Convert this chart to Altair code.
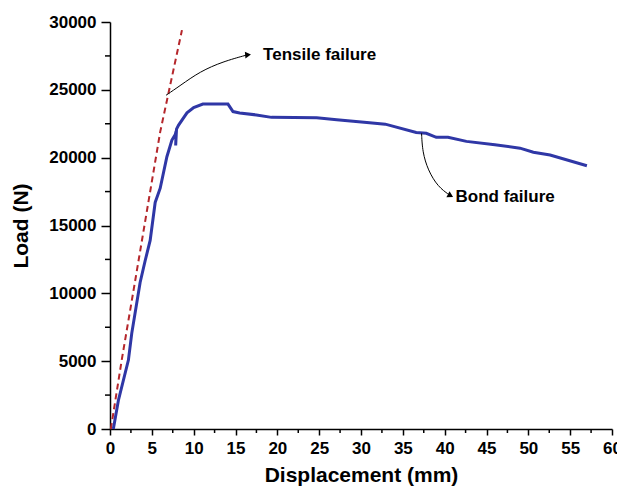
import altair as alt
import pandas as pd

# Measured load-displacement curve
disp = [0.4, 1.0, 2.2, 2.6, 3.6, 4.2, 4.8, 5.4, 6.0, 6.8, 7.4, 7.8, 7.9, 7.85, 7.95, 8.2,
        9.2, 10.0, 11.1, 14.1, 14.7, 15.5, 17.5, 19.3, 24.7, 27.1, 30.7, 32.9, 36.6,
        37.8, 39.0, 40.4, 42.6, 46.0, 49.0, 50.6, 52.6, 57.0]
load = [0, 2100, 5080, 7050, 10800, 12400, 13900, 16700, 17750, 20070, 21300, 21700,
        21950, 20900, 22100, 22400, 23300, 23700, 23950, 23950, 23400, 23300, 23150,
        22970, 22950, 22800, 22600, 22470, 21850, 21800, 21500, 21500, 21200, 20950,
        20700, 20400, 20200, 19400]

# Tensile (initial stiffness) line
tens_x = [0.1, 1.4, 3.0, 6.0, 8.6]
tens_y = [0, 5080, 10900, 21900, 29400]

# Annotation arrows
tarrow_x = [6.7, 8.36, 10.75, 13.5, 16.3]
tarrow_y = [24600, 25300, 26350, 27080, 27560]
barrow_x = [37.24, 37.35, 38.0, 39.2, 40.6]
barrow_y = [21790, 20430, 19080, 17850, 17240]

x_major = list(range(0, 61, 5))
x_minor = [v + 2.5 for v in range(0, 60, 5)]
y_major = list(range(0, 30001, 5000))
y_minor = list(range(2500, 30000, 5000))

W, H = 502, 407
FONT = "Liberation Sans"

curve = pd.DataFrame({"x": disp, "y": load, "i": range(len(disp))})
tens = pd.DataFrame({"x": tens_x, "y": tens_y})
ta = pd.DataFrame({"x": tarrow_x, "y": tarrow_y, "i": range(len(tarrow_x))})
ba = pd.DataFrame({"x": barrow_x, "y": barrow_y, "i": range(len(barrow_x))})

xs = alt.Scale(domain=[0, 60], nice=False)
ys = alt.Scale(domain=[0, 30000], nice=False)

xaxis = alt.Axis(values=x_major, format="d", title="Displacement (mm)", grid=False,
                 labelFontSize=17, labelFontWeight="bold", labelFont=FONT, labelColor="black",
                 labelFlush=False,
                 titleFontSize=21, titleFontWeight="bold", titleFont=FONT, titleColor="black",
                 tickSize=6, tickWidth=1.5, tickColor="black", domainWidth=1.5,
                 domainColor="black", labelPadding=5, titlePadding=8)
yaxis = alt.Axis(values=y_major, format="d", title="Load (N)", grid=False,
                 labelFontSize=17, labelFontWeight="bold", labelFont=FONT, labelColor="black",
                 labelFlush=False,
                 titleFontSize=21, titleFontWeight="bold", titleFont=FONT, titleColor="black",
                 tickSize=9, tickWidth=1.5, tickColor="black", domainWidth=1.5,
                 domainColor="black", labelPadding=5, titlePadding=17)

base_curve = alt.Chart(curve).mark_line(color="#2f37a6", strokeWidth=3).encode(
    x=alt.X("x:Q", scale=xs, axis=xaxis),
    y=alt.Y("y:Q", scale=ys, axis=yaxis),
    order="i:Q",
)

tens_line = alt.Chart(tens).mark_line(color="#b5262b", strokeWidth=2, strokeDash=[6, 4]).encode(
    x=alt.X("x:Q", scale=xs), y=alt.Y("y:Q", scale=ys)
)

xminor = alt.Chart(pd.DataFrame({"x": x_minor})).mark_rule(color="black", strokeWidth=1.5).encode(
    x=alt.X("x:Q", scale=xs), y=alt.value(H), y2=alt.value(H + 4)
)
yminor = alt.Chart(pd.DataFrame({"y": y_minor})).mark_rule(color="black", strokeWidth=1.5).encode(
    y=alt.Y("y:Q", scale=ys), x=alt.value(0), x2=alt.value(-5)
)

t_arrow = alt.Chart(ta).mark_line(color="black", strokeWidth=1, interpolate="basis").encode(
    x=alt.X("x:Q", scale=xs), y=alt.Y("y:Q", scale=ys), order="i:Q"
)
b_arrow = alt.Chart(ba).mark_line(color="black", strokeWidth=1, interpolate="basis").encode(
    x=alt.X("x:Q", scale=xs), y=alt.Y("y:Q", scale=ys), order="i:Q"
)
heads = pd.DataFrame({"x": [16.5, 40.7], "y": [27580, 17200], "a": [355, 28]})
t_head = alt.Chart(heads).mark_point(shape="triangle-right", filled=True, color="black",
                                     size=45, opacity=1).encode(
    x=alt.X("x:Q", scale=xs), y=alt.Y("y:Q", scale=ys), angle=alt.Angle("a:Q", scale=None)
)

labels = pd.DataFrame({"x": [18.3, 41.3], "y": [27560, 17100],
                       "t": ["Tensile failure", "Bond failure"]})
txt = alt.Chart(labels).mark_text(align="left", baseline="middle", fontSize=17,
                                  fontWeight="bold", font=FONT, color="black").encode(
    x=alt.X("x:Q", scale=xs), y=alt.Y("y:Q", scale=ys), text="t:N"
)

chart = alt.layer(tens_line, base_curve, xminor, yminor, t_arrow, b_arrow, t_head, txt).properties(
    width=W, height=H,
    autosize=alt.AutoSizeParams(type="none"),
    padding={"left": 102, "top": 14, "right": 5, "bottom": 57},
    background="white",
).configure_view(stroke="transparent")

chart.save("out.html", embed_options={"renderer": "svg", "actions": False})
